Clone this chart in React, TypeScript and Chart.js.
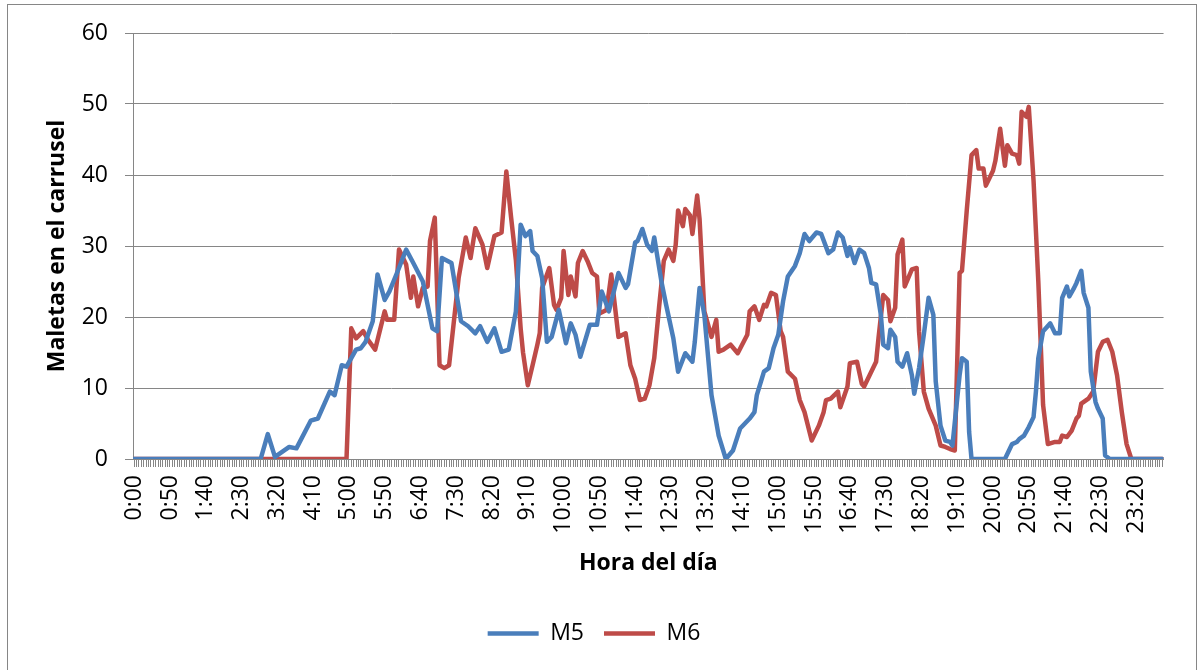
import { useEffect, useRef } from 'react';
import { Chart, registerables } from 'chart.js';

Chart.register(...registerables);

// 432 samples per day (one every 3 min 20 s); a label every 15 samples
const sampleCount = 432;
const labelEvery = 15;
const tickLabels = [
  '0:00', '0:50', '1:40', '2:30', '3:20', '4:10', '5:00', '5:50', '6:40', '7:30',
  '8:20', '9:10', '10:00', '10:50', '11:40', '12:30', '13:20', '14:10', '15:00', '15:50',
  '16:40', '17:30', '18:20', '19:10', '20:00', '20:50', '21:40', '22:30', '23:20',
];

// M5 (sample index, value)
const m5Index = [
  0, 53, 56, 59, 65, 68, 74, 77, 82, 84, 87, 89, 93, 95, 97, 100, 102, 105, 107, 111,
  114, 117, 121, 125, 127, 129, 133, 137, 140, 143, 145, 148, 151, 154, 157, 160, 162, 164, 166, 167,
  169, 171, 173, 175, 178, 181, 183, 185, 187, 191, 194, 196, 199, 203, 206, 207, 210, 211, 213, 215,
  217, 218, 221, 223, 226, 228, 231, 234, 235, 237, 239, 242, 245, 248, 251, 254, 258, 260, 261, 264,
  266, 268, 270, 272, 274, 277, 279, 281, 283, 286, 288, 291, 293, 295, 297, 299, 300, 302, 304, 306,
  308, 309, 311, 313, 314, 316, 317, 319, 320, 322, 324, 326, 327, 329, 331, 333, 335, 336, 338, 340,
  342, 343, 346, 347, 349, 350, 351, 365, 368, 370, 371, 373, 375, 377, 378, 379, 381, 384, 386, 388,
  389, 391, 392, 394, 395, 397, 398, 400, 401, 403, 404, 406, 407, 409, 431,
];
const m5Values = [
  0, 0, 3.5, 0.3, 1.7, 1.5, 5.4, 5.7, 9.5, 9, 13.2, 13, 15.4, 15.6, 16.5, 19.4, 26, 22.4, 23.6, 26.9,
  29.5, 27.6, 25, 18.4, 18, 28.3, 27.6, 19.4, 18.7, 17.7, 18.7, 16.5, 18.4, 15.1, 15.4, 20.8, 33, 31.4, 32.1, 29.3,
  28.6, 25.5, 16.5, 17.2, 21, 16.3, 19.1, 17.5, 14.4, 18.9, 18.9, 23.6, 20.8, 26.2, 24.1, 24.6, 30.5, 30.7, 32.4, 30.2,
  29.3, 31.2, 25, 21.7, 17, 12.3, 14.9, 13.7, 16.5, 24.1, 20.3, 9, 3.3, 0, 1.2, 4.3, 5.7, 6.6, 9, 12.3,
  12.8, 15.6, 17.5, 22.2, 25.7, 27.2, 29, 31.7, 30.7, 31.9, 31.7, 29, 29.5, 31.9, 31.2, 28.6, 29.8, 27.6, 29.5, 29,
  26.9, 24.8, 24.6, 20.3, 16.1, 15.6, 18.2, 17.2, 13.7, 13, 14.9, 11.8, 9.2, 12.8, 17.5, 22.7, 20.3, 10.9, 4.7, 2.6,
  2.4, 1.9, 11.8, 14.2, 13.7, 3.8, 0, 0, 2.1, 2.4, 2.8, 3.3, 4.5, 5.9, 9.5, 14.2, 18, 19.1, 17.7, 17.7,
  22.7, 24.3, 22.9, 24.1, 24.8, 26.5, 23.4, 21.3, 12.3, 8, 7.1, 5.7, 0.5, 0, 0,
];

// M6 (sample index, value)
const m6Index = [
  0, 89, 91, 93, 96, 98, 101, 105, 106, 109, 111, 114, 116, 117, 119, 121, 123, 124, 126, 128,
  130, 132, 136, 139, 141, 143, 146, 148, 151, 154, 156, 158, 160, 162, 163, 165, 167, 169, 170, 171,
  174, 176, 177, 179, 180, 182, 183, 185, 186, 188, 190, 192, 194, 195, 198, 200, 203, 206, 208, 210,
  212, 214, 216, 218, 220, 222, 224, 226, 227, 228, 230, 231, 233, 234, 236, 237, 239, 242, 244, 245,
  247, 250, 253, 257, 258, 260, 262, 264, 265, 267, 269, 271, 272, 274, 277, 279, 281, 284, 287, 289,
  290, 292, 295, 296, 299, 300, 303, 305, 306, 311, 312, 314, 316, 317, 319, 320, 322, 323, 326, 328,
  329, 331, 333, 336, 338, 340, 342, 344, 346, 347, 349, 351, 353, 354, 356, 357, 360, 361, 363, 365,
  366, 368, 370, 371, 372, 374, 375, 377, 379, 381, 383, 386, 388, 389, 391, 393, 395, 396, 397, 400,
  402, 404, 406, 408, 410, 412, 414, 416, 418, 431,
];
const m6Values = [
  0, 0, 18.4, 17, 18, 16.8, 15.4, 20.8, 19.6, 19.6, 29.5, 27.4, 22.7, 25.7, 21.5, 24.1, 24.3, 30.7, 34, 13.2,
  12.8, 13.2, 25.5, 31.2, 28.3, 32.5, 30.2, 26.9, 31.4, 31.9, 40.5, 34, 28, 18.4, 15, 10.4, 13.2, 16.1, 17.7, 24.1,
  26.9, 21.7, 21, 22.7, 29.3, 23.1, 25.7, 22.9, 27.6, 29.3, 27.9, 26.2, 25.7, 20.5, 21, 26, 17.2, 17.7, 13.2, 11.3,
  8.3, 8.5, 10.4, 14.2, 21.3, 27.9, 29.5, 27.9, 30.2, 35, 32.8, 35.2, 34.3, 31.7, 37.1, 33.8, 20.8, 17.2, 19.6, 15.1,
  15.4, 16.1, 14.9, 17.5, 20.8, 21.5, 19.6, 21.7, 21.5, 23.4, 23.1, 18, 17.2, 12.3, 11.3, 8.3, 6.6, 2.6, 4.7, 6.6,
  8.3, 8.5, 9.5, 7.3, 10.2, 13.5, 13.7, 10.6, 10.2, 13.7, 17, 23.1, 22.4, 19.4, 21.3, 28.8, 30.9, 24.3, 26.7, 26.9,
  18, 9.5, 7.1, 4.7, 1.9, 1.7, 1.4, 1.2, 26.2, 26.5, 35, 42.8, 43.5, 40.9, 40.9, 38.5, 40.6, 42, 46.5, 41.3,
  44.2, 43, 42.8, 41.6, 48.9, 48.2, 49.6, 39.2, 25, 7.6, 2.1, 2.4, 2.4, 3.3, 3.1, 4, 5.7, 6.1, 7.8, 8.5,
  9.5, 15.1, 16.5, 16.8, 15.1, 11.8, 6.6, 2.1, 0, 0,
];

const yTicks = [0, 10, 20, 30, 40, 50, 60];

const FONT = '"Open Sans", sans-serif';
const GRAY = '#868686';
const BLUE = '#4A7EBB';
const RED = '#BE4B48';

const toPoints = (idx: number[], vals: number[]) => idx.map((x, i) => ({ x, y: vals[i] }));

const frame = {
  id: 'frame',
  afterDraw(chart: any) {
    const ctx = chart.ctx;
    ctx.save();
    ctx.strokeStyle = GRAY;
    ctx.lineWidth = 1;
    ctx.strokeRect(7.5, 4.5, 1189, 700);
    ctx.restore();
  },
};

export default function App() {
  const ref = useRef<HTMLCanvasElement>(null);
  useEffect(() => {
    document.body.style.margin = '0';
    const chart = new Chart(ref.current!, {
      type: 'line',
      data: {
        datasets: [
          {
            label: 'M5',
            data: toPoints(m5Index, m5Values),
            borderColor: BLUE,
            backgroundColor: BLUE,
            borderWidth: 4.5,
            borderCapStyle: 'round',
            borderJoinStyle: 'round',
            pointRadius: 0,
            tension: 0,
          },
          {
            label: 'M6',
            data: toPoints(m6Index, m6Values),
            borderColor: RED,
            backgroundColor: RED,
            borderWidth: 4.5,
            borderCapStyle: 'round',
            borderJoinStyle: 'round',
            pointRadius: 0,
            tension: 0,
          },
        ],
      },
      options: {
        animation: false,
        responsive: false,
        layout: { padding: { top: 33, left: 20, right: 30, bottom: 15 } },
        scales: {
          x: {
            type: 'linear',
            min: -0.5,
            max: sampleCount - 0.5,
            afterBuildTicks: (s: any) => {
              const t: any[] = [];
              for (let i = 0; i < sampleCount; i++) t.push({ value: i });
              s.ticks = t;
            },
            afterFit: (s: any) => {
              s.height = 143;
            },
            ticks: {
              autoSkip: false,
              minRotation: 90,
              maxRotation: 90,
              padding: 8,
              color: '#000',
              font: { family: FONT, size: 23 },
              callback: (v: any) => {
                const i = Number(v);
                return i % labelEvery === 0 ? tickLabels[i / labelEvery] : '';
              },
            },
            grid: { drawOnChartArea: false, tickLength: 8, color: GRAY },
            border: { color: GRAY },
            title: {
              display: true,
              text: 'Hora del día',
              color: '#000',
              font: { family: FONT, size: 23, weight: 'bold' },
              padding: { top: 0, bottom: 25 },
            },
          },
          y: {
            min: 0,
            max: 60,
            afterBuildTicks: (s: any) => {
              s.ticks = yTicks.map((value) => ({ value }));
            },
            afterFit: (s: any) => {
              s.width = 113;
            },
            ticks: {
              padding: 17,
              color: '#000',
              font: { family: FONT, size: 23 },
            },
            grid: { color: GRAY, tickLength: 8 },
            border: { color: GRAY },
            title: {
              display: true,
              text: 'Maletas en el carrusel',
              color: '#000',
              font: { family: FONT, size: 23, weight: 'bold' },
              padding: { top: 24, bottom: 0 },
            },
          },
        },
        plugins: {
          legend: {
            position: 'bottom',
            labels: {
              usePointStyle: true,
              pointStyle: 'line',
              pointStyleWidth: 51,
              color: '#000',
              font: { family: FONT, size: 23 },
              padding: 20,
            },
          },
          tooltip: { enabled: false },
        },
      } as any,
      plugins: [frame],
    });
    return () => chart.destroy();
  }, []);
  return <canvas ref={ref} width={1198} height={670} style={{ display: 'block' }} />;
}
